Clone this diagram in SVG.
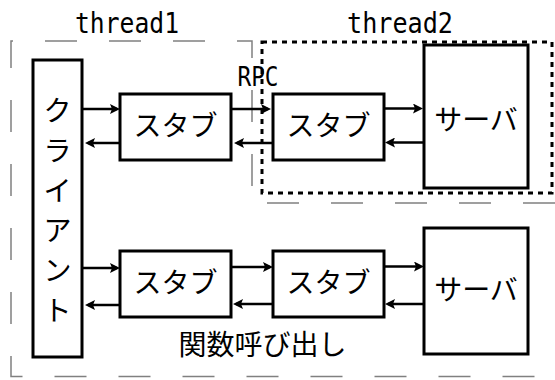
<svg xmlns="http://www.w3.org/2000/svg" width="555" height="380" viewBox="0 0 555 380">
<style>
.box{fill:#fff;stroke:#000;stroke-width:3}
.jp{font-family:"Noto Sans CJK JP",sans-serif;font-size:28px;fill:#000}
.mono{font-family:"DejaVu Sans Mono","Liberation Mono",monospace;font-size:28px;fill:#000}
.arr{stroke:#000;stroke-width:2.5;fill:none;marker-end:url(#ah)}
.grp1{fill:none;stroke:#808080;stroke-width:1.5;stroke-dasharray:32 32;stroke-dashoffset:30}
.grp2{fill:none;stroke:#000;stroke-width:3;stroke-dasharray:5 5}
</style>
<defs>
<marker id="ah" markerUnits="userSpaceOnUse" markerWidth="10" markerHeight="10" refX="7" refY="5" orient="auto"><path d="M0,0 L10,5 L0,10 L2,5 Z" fill="#000"/></marker>
</defs>
<rect width="555" height="380" fill="#fff"/>
<g id="thread1">
<path class="grp1" d="M11,41 H252 V203 H570 V376.5 H11 Z"/>
<text class="mono" x="127" y="33" text-anchor="middle" textLength="104" lengthAdjust="spacingAndGlyphs">thread1</text>
</g>
<g id="thread2-label">
<text class="mono" x="400" y="33" text-anchor="middle" textLength="106" lengthAdjust="spacingAndGlyphs">thread2</text>
</g>
<g id="client">
<rect class="box" x="33" y="60" width="49" height="297"/>
<text class="jp" text-anchor="middle"><tspan x="57.5" y="121">ク</tspan><tspan x="57.5" y="161">ラ</tspan><tspan x="57.5" y="201">イ</tspan><tspan x="57.5" y="241">ア</tspan><tspan x="57.5" y="281">ン</tspan><tspan x="57.5" y="321">ト</tspan></text>
</g>
<g id="stub1">
<rect class="box" x="120" y="94" width="111" height="66"/>
<text class="jp" x="175.5" y="136" text-anchor="middle">スタブ</text>
</g>
<g id="stub2">
<rect class="box" x="273" y="94" width="111" height="66"/>
<text class="jp" x="328.5" y="136" text-anchor="middle">スタブ</text>
</g>
<g id="server1">
<rect class="box" x="424" y="45" width="104" height="143"/>
<text class="jp" x="476" y="130" text-anchor="middle">サーバ</text>
</g>
<g id="stub3">
<rect class="box" x="120" y="251" width="111" height="66"/>
<text class="jp" x="175.5" y="293" text-anchor="middle">スタブ</text>
</g>
<g id="stub4">
<rect class="box" x="273" y="251" width="111" height="66"/>
<text class="jp" x="328.5" y="293" text-anchor="middle">スタブ</text>
</g>
<g id="server2">
<rect class="box" x="424" y="228" width="104" height="126"/>
<text class="jp" x="476" y="300" text-anchor="middle">サーバ</text>
</g>
<g id="connectors">
<line class="arr" x1="82" y1="109" x2="117" y2="109"/>
<line class="arr" x1="120" y1="143" x2="88" y2="143"/>
<line class="arr" x1="231" y1="109" x2="268" y2="109"/>
<line class="arr" x1="273" y1="143" x2="237" y2="143"/>
<line class="arr" x1="384" y1="108.5" x2="420" y2="108.5"/>
<line class="arr" x1="424" y1="142.5" x2="388" y2="142.5"/>
<line class="arr" x1="82" y1="268" x2="117" y2="268"/>
<line class="arr" x1="120" y1="305" x2="88" y2="305"/>
<line class="arr" x1="231" y1="267" x2="270" y2="267"/>
<line class="arr" x1="273" y1="304" x2="236" y2="304"/>
<line class="arr" x1="384" y1="266.5" x2="421" y2="266.5"/>
<line class="arr" x1="424" y1="304" x2="388" y2="304"/>
<text class="mono" x="258" y="86" text-anchor="middle" font-size="26" textLength="41" lengthAdjust="spacingAndGlyphs" style="font-size:26px">RPC</text>
<text class="jp" x="262.5" y="355" text-anchor="middle">関数呼び出し</text>
</g>
<g id="thread2">
<rect class="grp2" x="262" y="42" width="290" height="151"/>
</g>
</svg>
